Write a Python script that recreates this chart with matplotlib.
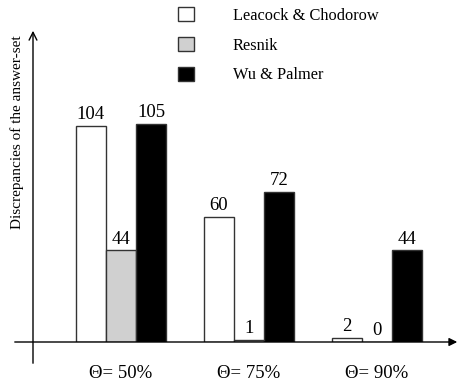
import matplotlib.pyplot as plt
import numpy as np

plt.rcParams['font.family'] = ['Liberation Serif', 'DejaVu Serif']

# data
groups = ['Θ= 50%', 'Θ= 75%', 'Θ= 90%']
methods = ['Leacock & Chodorow', 'Resnik', 'Wu & Palmer']
leacock = [104, 60, 2]
resnik = [44, 1, 0]
wu_palmer = [105, 72, 44]

colors = ['white', '#d0d0d0', 'black']

W, H = 461, 383
base = 342          # baseline, pixels from top
gpx = 128.0         # pixels per group
x0 = 121            # first group centre, pixels
yscale = 2.08       # pixels per unit

fig = plt.figure(figsize=(W / 100, H / 100), dpi=100)
ax = fig.add_axes([0, (H - base) / H, 1, base / H])
ax.set_xlim(-x0 / gpx, (W - x0) / gpx)
ax.set_ylim(0, base / yscale)
ax.axis('off')

x = np.arange(len(groups))
w = 0.235
bars = []
for i, (vals, c) in enumerate(zip([leacock, resnik, wu_palmer], colors)):
    b = ax.bar(x + (i - 1) * w, vals, w, color=c, edgecolor='#333333',
               linewidth=1.0, label=methods[i])
    ax.bar_label(b, padding=2, fontsize=13.5)
    bars.append(b)

# axes drawn as arrows
ax.annotate('', xy=((460 - x0) / gpx, 0), xytext=((12 - x0) / gpx, 0),
            arrowprops=dict(arrowstyle='-|>', color='black', lw=1,
                            mutation_scale=12), annotation_clip=False)
yx = (33 - x0) / gpx
ax.annotate('', xy=(yx, (base - 28) / yscale), xytext=(yx, (base - 366) / yscale),
            arrowprops=dict(arrowstyle='->', color='black', lw=1,
                            mutation_scale=14), annotation_clip=False)

for xi, g in zip(x, groups):
    ax.text(xi, (base - 374) / yscale, g, ha='center', va='center',
            fontsize=13.5, clip_on=False)

fig.text(17 / W, 1 - 132 / H, 'Discrepancies of the answer-set', rotation=90,
         ha='center', va='center', fontsize=11)

ax.legend(handles=bars, loc='upper left', bbox_to_anchor=(178 / W, 1 - 7 / H),
          bbox_transform=fig.transFigure, frameon=False, fontsize=11.8,
          handlelength=0.95, handleheight=0.95, handletextpad=2.4,
          labelspacing=0.8, borderpad=0, borderaxespad=0)

fig.savefig('out.png', dpi=100)
